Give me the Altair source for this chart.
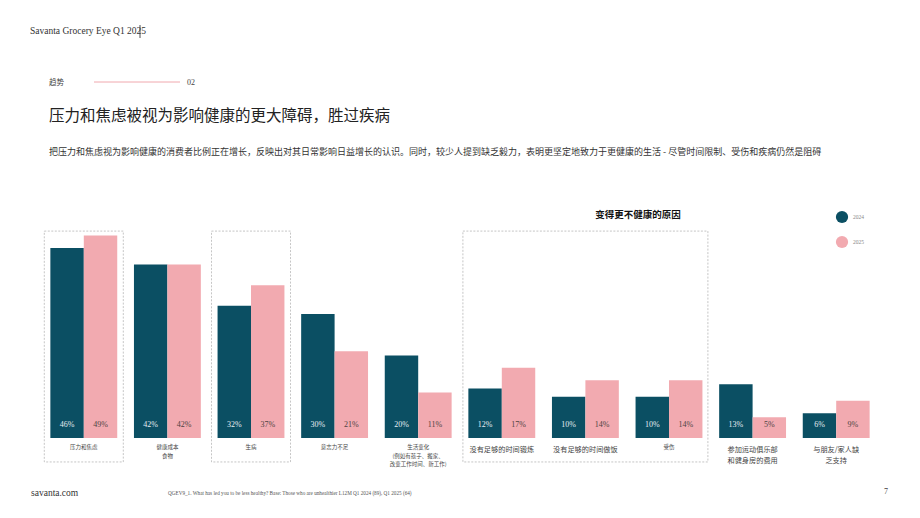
import altair as alt
import pandas as pd

# ---------------- data ----------------
categories = ["压力和焦虑", "健康成本食物", "生病", "意志力不足", "生活变化",
              "没有足够的时间锻炼", "没有足够的时间做饭", "受伤",
              "参加运动俱乐部和健身房的费用", "与朋友/家人缺乏支持"]
category_labels = ["压力和焦虑", "健康成本\n食物", "生病", "意志力不足",
                   "生活变化\n(例如有孩子、搬家、\n改变工作时间、新工作)",
                   "没有足够的时间锻炼", "没有足够的时间做饭", "受伤",
                   "参加运动俱乐部\n和健身房的费用", "与朋友/家人缺\n乏支持"]
small_label_cats = ["压力和焦虑", "健康成本食物", "生病", "意志力不足", "生活变化", "受伤"]
years = ["2024", "2025"]
v2024 = [46, 42, 32, 30, 20, 12, 10, 10, 13, 6]
v2025 = [49, 42, 37, 21, 11, 17, 14, 14, 5, 9]
single_boxes = ["压力和焦虑", "生病"]          # highlighted single categories
wide_box_center = ["没有足够的时间做饭"]        # centre of the 3-category highlight

rows = []
for c, a, b in zip(categories, v2024, v2025):
    rows.append({"category": c, "year": "2024", "value": a, "label": f"{a}%"})
    rows.append({"category": c, "year": "2025", "value": b, "label": f"{b}%"})
df = pd.DataFrame(rows)
labels_df = pd.DataFrame({"category": categories, "text": category_labels,
                          "small": [c in small_label_cats for c in categories]})
one = pd.DataFrame({"k": [0]})

# ---------------- styling ----------------
DARK = "#0b4f63"
PINK = "#f2aab0"
CJK = "Noto Sans CJK SC"
SERIF = "Liberation Serif"

# plot area = whole page (920 x 518)
xscale = alt.Scale(domain=categories, paddingInner=0.2, paddingOuter=0.6024)
yscale = alt.Scale(domain=[-19.37, 106.05], nice=False, zero=False)
cscale = alt.Scale(domain=years, range=[DARK, PINK])
xoff = alt.XOffset("year:N", scale=alt.Scale(domain=years, paddingInner=0, paddingOuter=0))

X = alt.X("category:N", scale=xscale, axis=None)
Y = alt.Y("value:Q", scale=yscale, axis=None)

legend = alt.Legend(title=None, orient="none", legendX=835, legendY=210,
                    symbolType="circle", symbolSize=150,
                    labelFont=SERIF, labelFontSize=5.5, labelColor="#888",
                    rowPadding=11)

bars = alt.Chart(df).mark_bar().encode(
    x=X, xOffset=xoff, y=Y,
    color=alt.Color("year:N", scale=cscale, legend=legend))

value_layers = []
for yr, tcol in [("2024", "#e6edf1"), ("2025", "#4d4343")]:
    value_layers.append(
        alt.Chart(df).transform_filter(alt.datum.year == yr)
        .transform_calculate(ypos="3.1")
        .mark_text(font=SERIF, fontSize=8, baseline="middle", align="center", color=tcol)
        .encode(x=X, xOffset=xoff, y=alt.Y("ypos:Q", scale=yscale, axis=None), text="label:N"))

small_labels = alt.Chart(labels_df).transform_filter("datum.small").transform_calculate(
    ypos="-1.7").mark_text(
    font=CJK, fontSize=5.5, lineHeight=8.5, baseline="top", align="center",
    color="#444", lineBreak="\n").encode(
    x=X, y=alt.Y("ypos:Q", scale=yscale, axis=None), text="text:N")

big_labels = alt.Chart(labels_df).transform_filter("!datum.small").transform_calculate(
    ypos="-1.9").mark_text(
    font=CJK, fontSize=7.2, lineHeight=11.5, baseline="top", align="center",
    color="#444", lineBreak="\n").encode(
    x=X, y=alt.Y("ypos:Q", scale=yscale, axis=None), text="text:N")

box_style = dict(fillOpacity=0, stroke="#b8b8b8", strokeWidth=0.8, strokeDash=[2, 1.5])
boxes = []
for cats, w in [(single_boxes, 79), (wide_box_center, 245)]:
    boxes.append(
        alt.Chart(pd.DataFrame({"category": cats}))
        .transform_calculate(top="50.1", bottom="-5.8")
        .mark_bar(width=w, **box_style)
        .encode(x=X, y=alt.Y("top:Q", scale=yscale, axis=None), y2="bottom:Q"))


def note(text, x, y, size, font=CJK, color="#333", weight="normal", align="left"):
    return alt.Chart(one).mark_text(
        text=text, font=font, fontSize=size, color=color, fontWeight=weight,
        align=align, baseline="middle"
    ).encode(x=alt.value(x), y=alt.value(y))


notes = [
    note("Savanta Grocery Eye Q1 2025", 30, 31, 9.5, font=SERIF, color="#333"),
    note("趋势", 49, 83, 7.5, color="#444"),
    note("02", 187, 83, 8, font=SERIF, color="#444"),
    note("压力和焦虑被视为影响健康的更大障碍，胜过疾病", 49, 116, 15.5, color="#222"),
    note("把压力和焦虑视为影响健康的消费者比例正在增长，反映出对其日常影响日益增长的认识。同时，较少人提到缺乏毅力，表明更坚定地致力于更健康的生活 - 尽管时间限制、受伤和疾病仍然是阻碍",
         49, 152, 9, color="#333"),
    note("变得更不健康的原因", 638, 215, 9.5, color="#111", weight="bold", align="center"),
    note("savanta.com", 31, 493, 9.5, font=SERIF, color="#333"),
    note("QGEV9_1. What has led you to be less healthy? Base: Those who are unhealthier L12M Q1 2024 (89), Q1 2025 (64)",
         168, 493, 5.2, font=SERIF, color="#555"),
    note("7", 884, 492, 8, font=SERIF, color="#444"),
]

pink_line = alt.Chart(one).mark_rule(color="#f0a8ae", strokeWidth=1).encode(
    x=alt.value(94), x2=alt.value(180), y=alt.value(82))
cursor = alt.Chart(one).mark_rule(color="#222", strokeWidth=0.8).encode(
    x=alt.value(140), y=alt.value(25), y2=alt.value(38))

chart = alt.layer(*boxes, bars, *value_layers, small_labels, big_labels, pink_line, cursor, *notes).properties(
    width=920, height=518, padding=0, background="white",
).configure_view(stroke=None)

chart.save("out.html", embed_options={"renderer": "svg", "actions": False})
